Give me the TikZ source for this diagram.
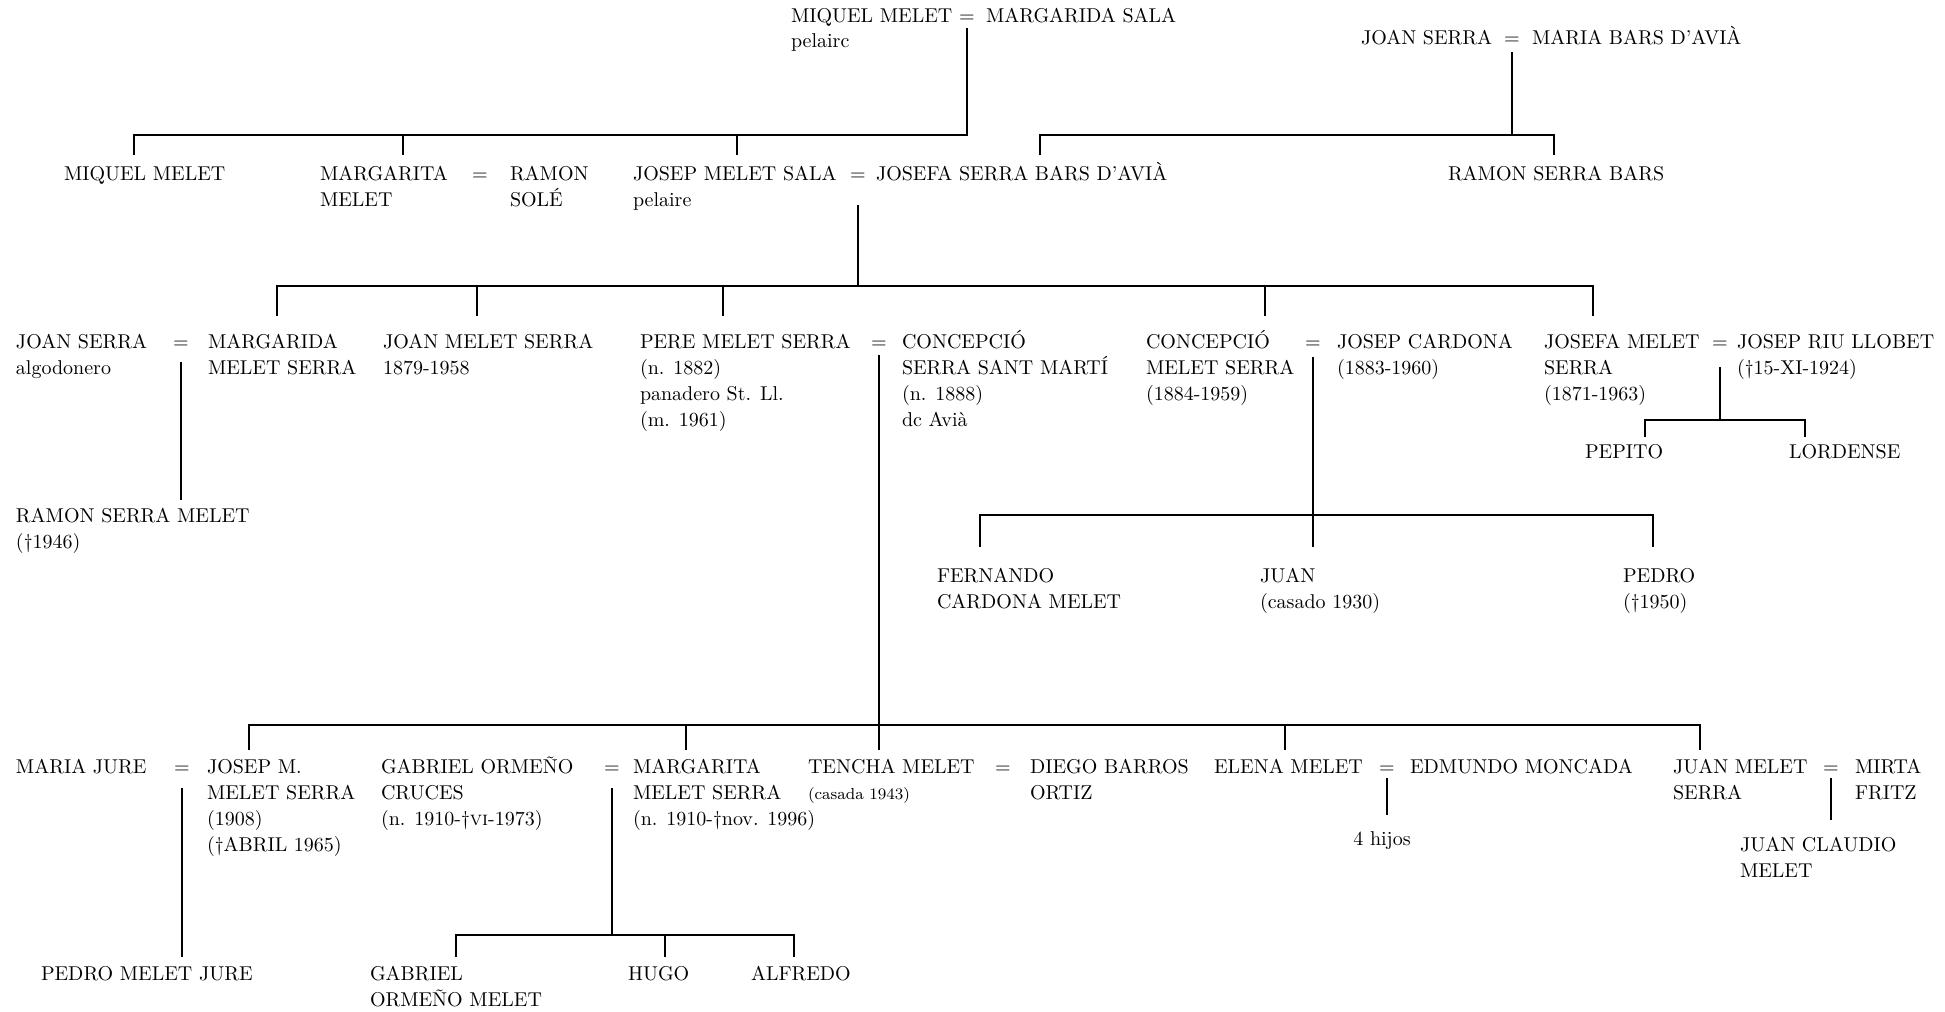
\documentclass[tikz,border=0pt]{standalone}
\usepackage{fontspec}
\newcommand{\txtsize}{\fontsize{10}{13}\selectfont}
\newcommand{\notesize}{\fontsize{8}{13}\selectfont}
\newcommand{\persontext}[1]{\begin{tabular}[t]{@{}l@{}}#1\end{tabular}}
\begin{document}
\begin{tikzpicture}[x=0.5pt,y=-0.5pt,inner sep=0pt,outer sep=0pt,line width=0.8pt,
person/.style={anchor=base west,font=\txtsize},
marr/.style={anchor=base,font=\txtsize}]
\useasboundingbox (0,0) rectangle (1945,1012);
% first generation
\draw (791,22) node[person] (miqS) {\persontext{MIQUEL MELET\\pelairc}};
\draw (967,22) node[marr] (eqMS) {=};
\draw (986,22) node[person] (margS) {MARGARIDA SALA};
\draw (1361,44) node[person] (joanS) {JOAN SERRA};
\draw (1512,44) node[marr] (eqSB) {=};
\draw (1532,44) node[person] (mariaB) {MARIA BARS D'AVIÀ};
% second generation
\draw (64,180) node[person] (miqJ) {MIQUEL MELET};
\draw (320,180) node[person] (margM) {\persontext{MARGARITA\\MELET}};
\draw (480,180) node[marr] (eqMR) {=};
\draw (510,180) node[person] (ramS) {\persontext{RAMON\\SOLÉ}};
\draw (633,180) node[person] (josMS) {\persontext{JOSEP MELET SALA\\pelaire}};
\draw (858,180) node[marr] (eqJJ) {=};
\draw (876,180) node[person] (josfS) {JOSEFA SERRA BARS D'AVIÀ};
\draw (1448,180) node[person] (ramSB) {RAMON SERRA BARS};
% third generation
\draw (16,348) node[person] (joanSa) {\persontext{JOAN SERRA\\algodonero}};
\draw (181,348) node[marr] (eqJM) {=};
\draw (208,348) node[person] (margMS) {\persontext{MARGARIDA\\MELET SERRA}};
\draw (383,348) node[person] (joanMS) {\persontext{JOAN MELET SERRA\\1879-1958}};
\draw (640,348) node[person] (pereMS) {\persontext{PERE MELET SERRA\\(n. 1882)\\panadero St. Ll.\\(m. 1961)}};
\draw (879,348) node[marr] (eqPC) {=};
\draw (902,348) node[person] (concSS) {\persontext{CONCEPCIÓ\\SERRA SANT MARTÍ\\(n. 1888)\\dc Avià}};
\draw (1146,348) node[person] (concMS) {\persontext{CONCEPCIÓ\\MELET SERRA\\(1884-1959)}};
\draw (1313,348) node[marr] (eqCJ) {=};
\draw (1337,348) node[person] (josC) {\persontext{JOSEP CARDONA\\(1883-1960)}};
\draw (1544,348) node[person] (josfMS) {\persontext{JOSEFA MELET\\SERRA\\(1871-1963)}};
\draw (1720,348) node[marr] (eqJR) {=};
\draw (1737,348) node[person] (josRL) {\persontext{JOSEP RIU LLOBET\\(†15-XI-1924)}};
\draw (1585,458) node[person] (pepR) {PEPITO};
\draw (1789,458) node[person] (lorR) {LORDENSE};
\draw (16,522) node[person] (ramSM) {\persontext{RAMON SERRA MELET\\(†1946)}};
\draw (937,582) node[person] (ferCM) {\persontext{FERNANDO\\CARDONA MELET}};
\draw (1260,582) node[person] (juanC) {\persontext{JUAN\\(casado 1930)}};
\draw (1623,582) node[person] (pedroC) {\persontext{PEDRO\\(†1950)}};
% fourth generation
\draw (16,773) node[person] (mariaJ) {MARIA JURE};
\draw (182,773) node[marr] (eqMJ) {=};
\draw (207,773) node[person] (josMMS) {\persontext{JOSEP M.\\MELET SERRA\\(1908)\\(†ABRIL 1965)}};
\draw (381,773) node[person] (gabOC) {\persontext{GABRIEL ORMEÑO\\CRUCES\\(n. 1910-†\textsc{vi}-1973)}};
\draw (612,773) node[marr] (eqGM) {=};
\draw (633,773) node[person] (margMS2) {\persontext{MARGARITA\\MELET SERRA\\(n. 1910-†nov. 1996)}};
\draw (808,773) node[person] (tenchaM) {\persontext{TENCHA MELET\\{\notesize (casada 1943)}}};
\draw (1003,773) node[marr] (eqTD) {=};
\draw (1030,773) node[person] (diegoBO) {\persontext{DIEGO BARROS\\ORTIZ}};
\draw (1214,773) node[person] (elenaM) {ELENA MELET};
\draw (1387,773) node[marr] (eqEE) {=};
\draw (1410,773) node[person] (edmM) {EDMUNDO MONCADA};
\draw (1673,773) node[person] (juanMS) {\persontext{JUAN MELET\\SERRA}};
\draw (1831,773) node[marr] (eqJF) {=};
\draw (1855,773) node[person] (mirtaF) {\persontext{MIRTA\\FRITZ}};
\draw (1382,845) node[marr] (hijosEE) {4 hijos};
\draw (1740,851) node[person] (juanCM) {\persontext{JUAN CLAUDIO\\MELET}};
\draw (41,980) node[person] (pedroMJ) {PEDRO MELET JURE};
\draw (370,980) node[person] (gabOM) {\persontext{GABRIEL\\ORMEÑO MELET}};
\draw (628,980) node[person] (hugoO) {HUGO};
\draw (751,980) node[person] (alfO) {ALFREDO};
% bars and drops
\coordinate (barMS) at (0,135);
\coordinate (barJJ) at (0,286);
\coordinate (barJR) at (0,420);
\coordinate (barCJ) at (0,515);
\coordinate (barPC) at (0,725);
\coordinate (barGM) at (0,935);
\coordinate (dMiqJ) at (134,155);
\coordinate (dMargM) at (403,155);
\coordinate (dJosMS) at (737,155);
\coordinate (dJosfS) at (1040,155);
\coordinate (dRamSB) at (1554,155);
\coordinate (dMargMS) at (277,316);
\coordinate (dJoanMS) at (477,316);
\coordinate (dPereMS) at (723,316);
\coordinate (dConcMS) at (1265,316);
\coordinate (dJosfMS) at (1593,316);
\coordinate (dRamSM) at (181,500);
\coordinate (dPepR) at (1645,437);
\coordinate (dLorR) at (1805,437);
\coordinate (dFerCM) at (980,547);
\coordinate (dJuanC) at (1313,547);
\coordinate (dPedroC) at (1653,547);
\coordinate (dJosMMS) at (249,750);
\coordinate (dMargMS2) at (686,750);
\coordinate (dTencha) at (879,750);
\coordinate (dElena) at (1285,750);
\coordinate (dJuanMS) at (1700,750);
\coordinate (dHijos) at (1387,815);
\coordinate (dJuanCM) at (1831,820);
\coordinate (dPedroMJ) at (182,957);
\coordinate (dGabOM) at (456,957);
\coordinate (dHugoO) at (665,957);
\coordinate (dAlfO) at (794,957);
% Melet - Sala and Serra - Bars
\draw (eqMS.base) ++(0,6) |- (dMiqJ |- barMS) -- (dMiqJ);
\draw (dMargM |- barMS) -- (dMargM);
\draw (dJosMS |- barMS) -- (dJosMS);
\draw (eqSB.base) ++(0,8) -- (eqSB |- barMS);
\draw (dJosfS) |- (dRamSB |- barMS) -- (dRamSB);
% Melet - Serra
\draw (eqJJ.base) ++(0,25) -- (eqJJ |- barJJ);
\draw (dMargMS) |- (dJosfMS |- barJJ) -- (dJosfMS);
\foreach \dn in {dJoanMS,dPereMS,dConcMS} \draw (\dn |- barJJ) -- (\dn);
% third generation couples
\draw (eqJM.base) ++(0,14) -- (dRamSM);
\draw (eqJR.base) ++(0,19) -- (eqJR |- barJR);
\draw (dPepR) |- (dLorR |- barJR) -- (dLorR);
\draw (eqCJ.base) ++(0,9) -- (dJuanC);
\draw (dFerCM) |- (dPedroC |- barCJ) -- (dPedroC);
\draw (eqPC.base) ++(0,7) -- (dTencha);
\draw (dJosMMS) |- (dJuanMS |- barPC) -- (dJuanMS);
\foreach \dn in {dMargMS2,dElena} \draw (\dn |- barPC) -- (\dn);
% fourth generation couples
\draw (eqMJ.base) ++(0,15) -- (dPedroMJ);
\draw (eqGM.base) ++(0,15) -- (eqGM |- barGM);
\draw (dGabOM) |- (dAlfO |- barGM) -- (dAlfO);
\draw (dHugoO |- barGM) -- (dHugoO);
\draw (eqEE.base) ++(0,5) -- (dHijos);
\draw (eqJF.base) ++(0,5) -- (dJuanCM);
\end{tikzpicture}
\end{document}
